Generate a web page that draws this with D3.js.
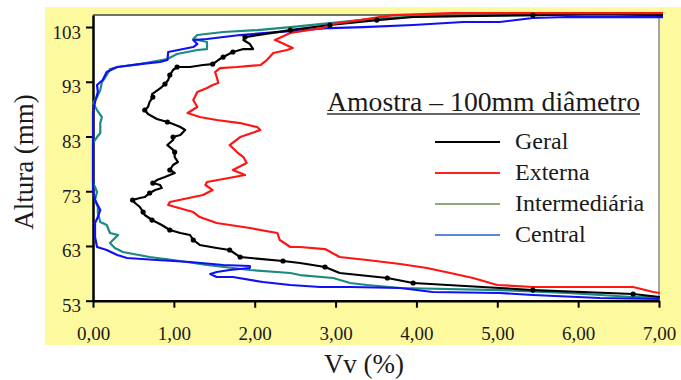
<!DOCTYPE html>
<html>
<head>
<meta charset="utf-8">
<script src="https://cdn.jsdelivr.net/npm/d3@7"></script>
<style>
  body { margin: 0; background: #fff; }
  svg { display: block; }
  text { font-family: "Liberation Serif", "DejaVu Serif", serif; fill: #1a1a1a; }
</style>
</head>
<body>
<svg id="grafico" width="681" height="380"></svg>
<script>
// valores: [Vv (%), Altura (mm)]
var geral = [[7.01,53.68],[6.68,54.22],[5.44,54.95],[5.03,55.32],[3.96,56.23],[3.64,57.15],[3.05,58.06],[2.87,59.16],
  [2.56,59.89],[2.35,60.25],[1.82,60.98],[1.69,62.26],[1.53,62.63],[1.32,63.18],[1.24,64.09],[1.20,65.00],[1.08,65.37],
  [0.95,65.92],[0.85,66.83],[0.73,67.74],[0.64,68.66],[0.62,69.20],[0.58,70.12],[0.52,70.85],[0.49,71.40],[0.58,71.76],
  [0.64,71.94],[0.70,72.68],[0.77,73.22],[0.85,73.59],[0.83,74.14],[0.74,74.50],[0.79,75.05],[0.89,75.60],[1.01,76.33],
  [0.95,76.88],[0.99,77.79],[1.05,78.34],[1.01,79.25],[1.01,80.16],[0.98,80.71],[0.92,81.44],[0.99,82.36],[0.99,82.90],
  [1.08,83.27],[1.14,84.18],[1.08,84.73],[0.99,85.28],[0.92,85.65],[0.79,86.19],[0.68,87.11],[0.64,87.84],[0.68,88.39],
  [0.70,89.30],[0.74,90.21],[0.73,90.76],[0.80,91.49],[0.85,92.04],[0.89,92.59],[0.93,93.32],[0.95,94.23],[0.99,95.15],
  [1.04,95.70],[1.20,95.70],[1.36,96.06],[1.48,96.24],[1.55,96.97],[1.61,97.52],[1.73,98.44],[1.86,98.98],[1.98,98.98],
  [1.94,99.90],[1.86,100.63],[1.88,101.17],[2.44,102.45],[2.93,103.37],[3.51,104.28],[3.96,104.83],[5.44,105.19],
  [6.27,105.38],[7.05,105.19]];
// pontos marcados na curva Geral (índices)
var geralMarcas = [1,2,4,5,7,9,10,11,14,17,19,21,24,27,31,35,39,43,48,51,54,58,60,62,65,67,68,73,74,75,76,78];

var externa = [[7.01,54.41],[6.93,54.59],[6.68,55.50],[5.44,55.50],[5.00,55.87],[4.70,57.15],[4.42,58.06],[4.13,58.97],
  [3.80,59.70],[3.39,60.44],[3.05,60.98],[2.87,62.44],[2.56,62.81],[2.44,62.81],[2.31,64.09],[2.28,65.37],[1.94,66.28],
  [1.53,67.19],[1.32,68.29],[1.24,69.20],[0.93,70.48],[0.95,71.03],[1.36,72.31],[1.48,73.22],[1.39,74.14],[1.41,74.68],
  [1.88,75.96],[1.73,76.88],[1.90,78.15],[1.86,79.25],[1.78,80.16],[1.69,81.44],[1.82,82.90],[2.07,84.18],[2.03,84.73],
  [1.82,85.46],[1.53,86.01],[1.32,86.56],[1.17,87.29],[1.29,88.39],[1.24,89.67],[1.29,91.13],[1.41,91.86],[1.48,92.41],
  [1.55,92.77],[1.53,93.87],[1.51,94.78],[1.57,95.51],[1.78,95.70],[2.07,96.06],[2.15,96.97],[2.23,98.25],[2.40,98.80],
  [2.47,99.17],[2.31,100.26],[2.25,100.63],[2.44,101.91],[2.84,102.82],[2.97,103.55],[3.71,105.19],[4.45,105.56],
  [6.23,105.56],[7.05,105.56]];

var intermediaria = [[7.01,53.68],[6.68,53.68],[5.86,54.41],[5.03,54.95],[3.80,55.32],[3.39,55.87],[3.18,56.23],
  [2.97,57.15],[2.56,57.69],[2.44,58.06],[1.94,58.61],[1.41,59.52],[0.99,60.44],[0.70,60.98],[0.37,61.90],[0.27,62.63],
  [0.21,63.54],[0.31,65.00],[0.21,65.37],[0.17,66.83],[0.09,67.38],[0.06,69.02],[0.06,70.12],[0.025,71.40],[0.05,72.86],
  [0.025,73.77],[0,74.50],[0,78.70],[0,81.81],[0.05,82.90],[0.09,83.64],[0.09,85.46],[0.11,86.56],[0.05,87.84],
  [0,89.12],[0.05,90.21],[0.09,91.49],[0.11,92.95],[0.17,94.23],[0.21,95.33],[0.30,95.70],[0.58,96.24],[0.92,97.16],
  [1.04,98.07],[1.29,98.80],[1.41,98.98],[1.41,100.26],[1.24,100.81],[1.29,101.54],[1.61,102.09],[2.03,102.45],
  [2.44,103.00],[2.93,103.73],[3.55,104.65],[4.20,105.01],[5.44,105.19],[6.27,105.38],[7.05,105.19]];

var central = [[7.01,53.31],[6.27,53.49],[5.44,54.04],[5.03,54.41],[4.20,54.59],[3.80,55.32],[3.18,55.50],[2.81,55.50],
  [2.44,55.87],[2.10,56.42],[1.73,57.33],[1.53,57.33],[1.45,57.88],[1.53,58.24],[1.69,58.61],[1.94,58.97],[1.94,59.34],
  [1.61,59.52],[1.20,60.07],[0.79,60.44],[0.42,60.80],[0.30,61.35],[0.17,62.26],[0.05,62.81],[0.025,64.64],[0.025,67.19],
  [0.06,68.29],[0.09,69.57],[0.025,71.40],[0,73.22],[0,80.53],[0,87.47],[0.025,89.30],[0.06,91.13],[0.05,92.41],
  [0.12,93.32],[0.17,94.78],[0.30,95.70],[0.58,96.24],[0.83,96.61],[0.92,96.97],[0.93,98.44],[1.24,99.35],[1.29,99.90],
  [1.24,100.63],[1.41,100.81],[1.82,101.54],[2.44,102.27],[2.93,102.82],[3.34,103.00],[3.96,103.37],[4.58,103.92],
  [5.03,103.92],[5.44,104.65],[5.86,104.83],[7.05,104.83]];

var ticksX = [0, 1, 2, 3, 4, 5, 6, 7];
var ticksY = [53, 63, 73, 83, 93, 103];
var series = ["Geral", "Externa", "Intermediária", "Central"];

var svg = d3.select("#grafico");

// fundo amarelo
svg.append("rect").attr("x", 45).attr("y", 7).attr("width", 636).attr("height", 338).attr("fill", "#fcf99f");

var x = d3.scaleLinear().domain([0, 7]).range([93, 659]);
var y = d3.scaleLinear().domain([53, 105.2]).range([300.7, 15]);

// area do gráfico
svg.append("rect").attr("x", 93).attr("y", 15).attr("width", 566).attr("height", 285.7).attr("fill", "#fff");
svg.append("line").attr("x1", 93).attr("x2", 660).attr("y1", 15).attr("y2", 15)
  .attr("stroke", "#444").attr("stroke-width", 1.5);
svg.append("line").attr("x1", 659).attr("x2", 659).attr("y1", 15).attr("y2", 300)
  .attr("stroke", "#8a8a8a").attr("stroke-width", 1.5);

var eixoY = svg.append("g").attr("transform", "translate(93,0)")
  .call(d3.axisLeft(y).tickValues(ticksY).tickSize(7).tickSizeOuter(0).tickPadding(5));
var eixoX = svg.append("g").attr("transform", "translate(0,300.7)")
  .call(d3.axisBottom(x).tickValues(ticksX).tickSize(7).tickSizeOuter(0).tickPadding(19)
    .tickFormat(function (d) { return d3.format(".2f")(d).replace(".", ","); }));

[eixoX, eixoY].forEach(function (g) {
  g.select(".domain").attr("stroke", "#000").attr("stroke-width", 2.5);
  g.selectAll(".tick line").attr("stroke", "#000").attr("stroke-width", 2);
  g.selectAll(".tick text").style("font-family", "Liberation Serif").style("font-size", "19px").attr("fill", "#1a1a1a");
});
eixoY.selectAll(".tick text").attr("dy", "0.58em");

var linha = d3.line()
  .x(function (d) { return x(d[0]); })
  .y(function (d) { return y(d[1]); });

var curvas = [
  { dados: intermediaria, cor: "#1b8a80" },
  { dados: central, cor: "#1010f5" },
  { dados: geral, cor: "#000" },
  { dados: externa, cor: "#ff1414" }
];
curvas.forEach(function (c) {
  svg.append("path").datum(c.dados).attr("d", linha)
    .attr("fill", "none").attr("stroke", c.cor).attr("stroke-width", 2.2)
    .attr("stroke-linejoin", "round");
});

svg.selectAll(".marca").data(geralMarcas.map(function (i) { return geral[i]; }))
  .enter().append("circle").attr("class", "marca")
  .attr("cx", function (d) { return x(d[0]); })
  .attr("cy", function (d) { return y(d[1]); })
  .attr("r", 2.6).attr("fill", "#000");

// titulos dos eixos
svg.append("text").attr("x", 364).attr("y", 373).attr("text-anchor", "middle")
  .style("font-size", "27px").text("Vv (%)");
svg.append("text").attr("transform", "translate(33,162) rotate(-90)").attr("text-anchor", "middle")
  .style("font-size", "27px").text("Altura (mm)");

// legenda
svg.append("text").attr("x", 327).attr("y", 111).style("font-size", "27.7px").text("Amostra – 100mm diâmetro");
svg.append("line").attr("x1", 327).attr("x2", 640).attr("y1", 114).attr("y2", 114)
  .attr("stroke", "#333").attr("stroke-width", 1.3);

var coresLegenda = ["#000", "#ff2020", "#8aab78", "#5b8bd8"];
var legenda = svg.selectAll(".leg").data(series).enter().append("g").attr("class", "leg")
  .attr("transform", function (d, i) { return "translate(0," + (142 + i * 31) + ")"; });
legenda.append("line").attr("x1", 435).attr("x2", 500).attr("y1", 0).attr("y2", 0)
  .attr("stroke", function (d, i) { return coresLegenda[i]; }).attr("stroke-width", 2);
legenda.append("text").attr("x", 515).attr("y", 7).style("font-size", "24px").text(function (d) { return d; });
</script>
</body>
</html>
